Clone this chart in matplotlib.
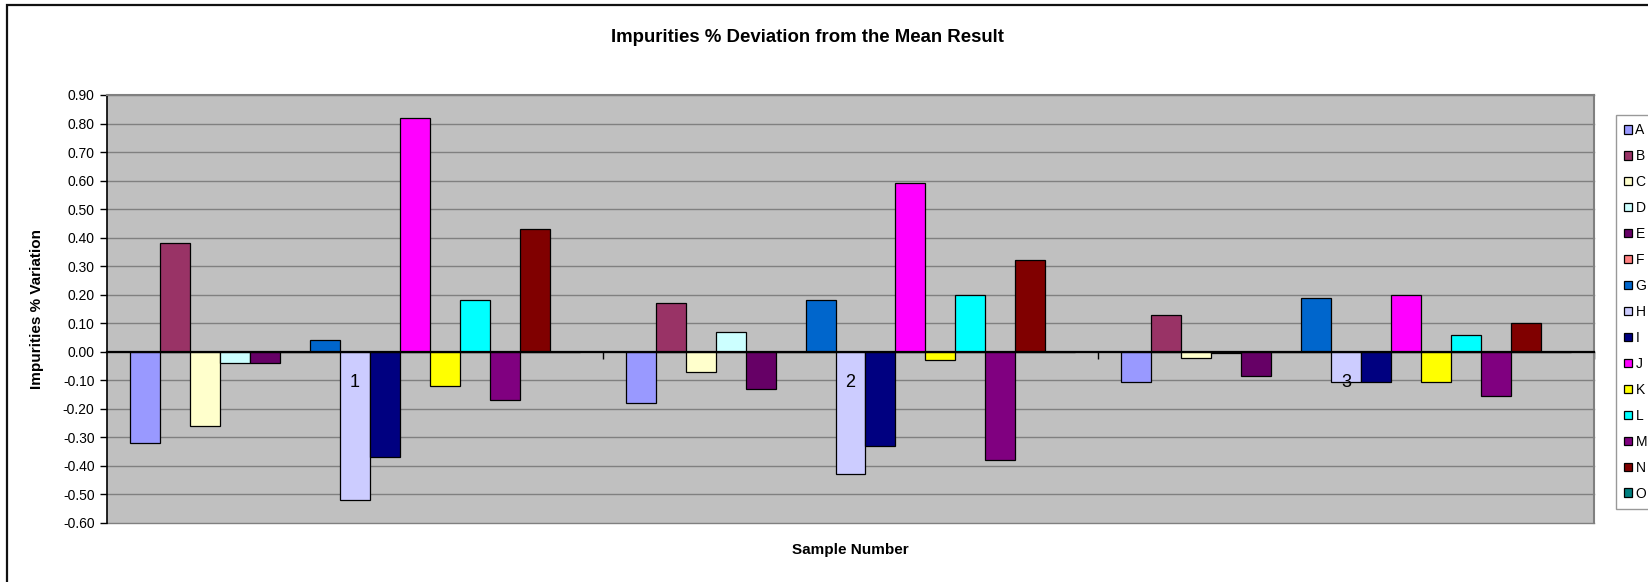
#!/usr/bin/env python3
"""Excel-style clustered bar chart: impurity deviation from the mean per sample."""

import matplotlib

matplotlib.use("Agg")
import matplotlib.pyplot as plt
import numpy as np
from matplotlib.patches import Rectangle

plt.rcParams["font.family"] = ["Liberation Sans", "DejaVu Sans"]

SAMPLES = ["1", "2", "3"]
SERIES = ["A", "B", "C", "D", "E", "F", "G", "H", "I", "J", "K", "L", "M", "N", "O"]

# deviation per series, one value per sample
A = [-0.32, -0.18, -0.105]
B = [0.38, 0.17, 0.13]
C = [-0.26, -0.07, -0.02]
D = [-0.04, 0.07, -0.004]
E = [-0.04, -0.13, -0.085]
F = [0.0, 0.0, 0.0]
G = [0.04, 0.18, 0.19]
H = [-0.52, -0.43, -0.105]
I = [-0.37, -0.33, -0.105]
J = [0.82, 0.59, 0.20]
K = [-0.12, -0.03, -0.105]
L = [0.18, 0.20, 0.06]
M = [-0.17, -0.38, -0.155]
N = [0.43, 0.32, 0.10]
O = [0.0, 0.0, 0.0]

VALUES = [A, B, C, D, E, F, G, H, I, J, K, L, M, N, O]

COLORS = [
    "#9999FF", "#993366", "#FFFFCC", "#CCFFFF", "#660066",
    "#FF8080", "#0066CC", "#CCCCFF", "#000080", "#FF00FF",
    "#FFFF00", "#00FFFF", "#800080", "#800000", "#008080",
]

W, H_PX = 1649, 582
fig = plt.figure(figsize=(W / 100, H_PX / 100), dpi=100)

# outer chart frame (left and top edges visible)
fig.patches.append(
    Rectangle((7 / W, -0.1), 1.2, 1.1 - 5 / H_PX, transform=fig.transFigure,
              fill=False, edgecolor="#111111", linewidth=1.6)
)

ax = fig.add_axes([107 / W, 1 - 523 / H_PX, (1594 - 107) / W, (523 - 95) / H_PX])
ax.set_facecolor("#C0C0C0")

x = np.arange(len(SAMPLES))
bar_w = 0.0605
n = len(SERIES)
handles = []
for i, (name, vals, col) in enumerate(zip(SERIES, VALUES, COLORS)):
    offs = (i - (n - 1) / 2) * bar_w
    b = ax.bar(x + offs, vals, bar_w, color=col, edgecolor="black",
               linewidth=0.9, label=name, zorder=1)
    handles.append(b)

ax.set_xlim(-0.5, 2.5)
ax.set_ylim(-0.6, 0.9)
yt = np.round(np.arange(-0.6, 0.91, 0.1), 2) + 0.0
ax.set_yticks(yt)
ax.set_yticklabels([f"{v:.2f}" if abs(v) > 1e-9 else "0.00" for v in yt], fontsize=10)
ax.tick_params(axis="y", direction="out", length=5, width=1, pad=4)

# gridlines behind bars
for yv in yt:
    ax.axhline(yv, color="#808080", linewidth=1.0, zorder=0.5, clip_on=False)

ax.spines["bottom"].set_position(("data", 0))
ax.spines["bottom"].set_color("black")
ax.spines["bottom"].set_linewidth(1.6)
ax.spines["left"].set_color("black")
ax.spines["left"].set_linewidth(1.2)
for s in ("top", "right"):
    ax.spines[s].set_color("#808080")
    ax.spines[s].set_linewidth(1.5)

ax.set_xticks([0.5, 1.5, 2.5])
ax.set_xticklabels(["", "", ""])
ax.tick_params(axis="x", which="major", direction="out", length=5, width=1)
ax.set_xticks(x, minor=True)
ax.set_xticklabels(SAMPLES, minor=True, fontsize=13)
ax.tick_params(axis="x", which="minor", length=0, pad=16)

fig.text(808 / W, 1 - 37 / H_PX, "Impurities % Deviation from the Mean Result",
         ha="center", va="center", fontsize=13.4, fontweight="bold")
fig.text(850 / W, 1 - 550 / H_PX, "Sample Number",
         ha="center", va="center", fontsize=11, fontweight="bold")
fig.text(37 / W, 1 - 309 / H_PX, "Impurities % Variation", rotation=90,
         ha="center", va="center", fontsize=11, fontweight="bold")

leg = fig.legend(handles=handles, labels=SERIES, loc="upper left",
                 bbox_to_anchor=(1616 / W, 1 - 115 / H_PX), fontsize=10,
                 frameon=True, fancybox=False, edgecolor="#808080",
                 handlelength=0.55, handleheight=0.55, handletextpad=0.25,
                 labelspacing=0.86, borderpad=0.6, borderaxespad=0)
leg.get_frame().set_linewidth(1.0)

fig.savefig("out.png", dpi=100)
